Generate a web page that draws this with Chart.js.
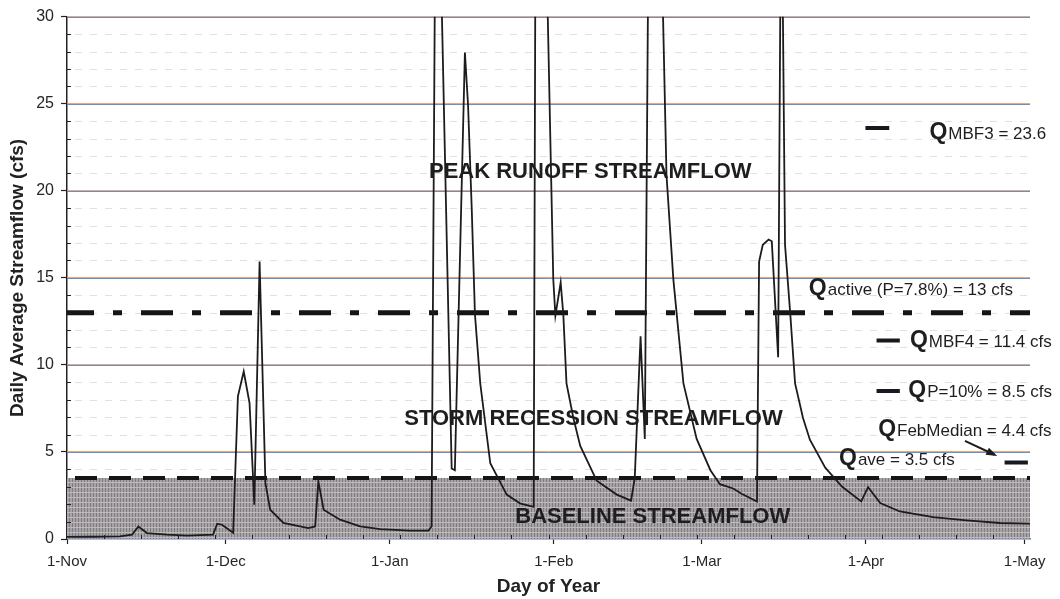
<!DOCTYPE html>
<html>
<head>
<meta charset="utf-8">
<script src="https://cdn.jsdelivr.net/npm/chart.js@4.4.1/dist/chart.umd.min.js"></script>
<style>
  html, body { margin: 0; padding: 0; background: #fff; }
</style>
</head>
<body>
<canvas id="flow-chart" width="1060" height="599"></canvas>
<script>
// x axis: day number counted from 1-Nov
var monthLabels = ['1-Nov', '1-Dec', '1-Jan', '1-Feb', '1-Mar', '1-Apr', '1-May'];
var monthDays = [0, 30, 61, 92, 120, 151, 181];
var yTicks = [0, 5, 10, 15, 20, 25, 30];

// daily average streamflow (cfs); peaks above 30 are off the chart
var flowDays = [0, 5, 10, 12.3, 13.5, 15.1, 18.9, 22.7, 27.6, 28.4, 29.3, 31.4, 32.3, 33.4, 34.5, 35.4,
  36.4, 37.5, 38.4, 40.9, 45.6, 46.9, 47.5, 48.5, 51.6, 55.4, 59.2, 64.8, 68.3, 68.9, 69.8, 72.7,
  73.3, 75.2, 75.8, 76.5, 77.1, 78.1, 80, 83.1, 85.6, 88.2, 88.8, 91.9, 92.3, 93.3, 93.8, 94.4,
  95.7, 97, 100.1, 103.9, 106.6, 107.3, 108.4, 109.2, 110.5, 113.3, 114.6, 116.5, 119, 121.6,
  123.4, 125.9, 127.5, 130.4, 130.8, 131.5, 132.6, 133.2, 134.4, 135, 135.7, 136.7, 137.6, 139.1,
  140.4, 143.3, 146.5, 150.1, 151.4, 153.7, 157.4, 163.7, 170, 176.3, 182];
var flowCfs = [0.12, 0.13, 0.15, 0.25, 0.72, 0.34, 0.25, 0.19, 0.25, 0.88, 0.82, 0.36, 8.19, 9.62, 7.81, 1.97,
  15.94, 3.21, 1.68, 0.92, 0.63, 0.72, 3.31, 1.68, 1.11, 0.72, 0.57, 0.48, 0.48, 0.72, 45, 4.05,
  3.95, 27.94, 24.9, 18.9, 12.9, 8.94, 4.35, 2.55, 2.05, 1.85, 60, 14.93, 12.83, 14.73, 12.9, 8.94,
  6.95, 5.35, 3.35, 2.55, 2.2, 3.5, 11.64, 5.75, 60, 20.9, 14.9, 8.94, 5.75, 3.95,
  3.15, 2.9, 2.6, 2.15, 15.93, 16.9, 17.2, 17.1, 10.44, 40, 16.9, 12.9, 8.94, 6.95,
  5.7, 4.1, 3.0, 2.16, 2.98, 2.07, 1.58, 1.26, 1.07, 0.92, 0.88];

// reference flows (cfs)
var qAve = 3.5;
var qActive = 13;
var markerNames = ['MBF3', 'MBF4', 'P=10%', 'FebMedian'];
var markerValues = [23.6, 11.4, 8.5, 4.4];

var FONT = "'Liberation Sans', Arial, sans-serif";
Chart.defaults.font.family = FONT;
Chart.defaults.color = '#262626';

var canvas = document.getElementById('flow-chart');
var ctx = canvas.getContext('2d');

// grey cross-hatch for the baseline band
function makeHatch() {
  var c = document.createElement('canvas');
  c.width = 6; c.height = 5;
  var g = c.getContext('2d');
  g.fillStyle = '#a7a3a7'; g.fillRect(0, 0, 6, 5);
  g.fillStyle = '#7f7b80'; g.fillRect(0, 0, 1, 5); g.fillRect(3, 0, 1, 5);
  g.fillStyle = '#bebabe'; g.fillRect(0, 2, 6, 1);
  return ctx.createPattern(c, 'repeat');
}

// where the short marker bars sit, in days
var markerX = [[150.9, 155.4], [153.0, 157.4], [153.0, 157.4], [177.2, 181.6]];

var flowPoints = flowDays.map(function (d, i) { return { x: d, y: flowCfs[i] }; });

var datasets = [{
  label: 'Streamflow',
  data: flowPoints,
  borderColor: '#1c1c1c',
  borderWidth: 1.8,
  pointRadius: 0,
  tension: 0
}, {
  label: 'Qactive',
  data: [{ x: 0, y: qActive }, { x: 182, y: qActive }],
  borderColor: '#151515',
  borderWidth: 5,
  borderDash: [32, 19, 9, 19],
  borderDashOffset: 5,
  pointRadius: 0
}, {
  label: 'Qave',
  data: [{ x: 0, y: qAve }, { x: 182, y: qAve }],
  borderColor: '#151515',
  borderWidth: 4,
  borderDash: [22, 12],
  borderDashOffset: 26,
  pointRadius: 0
}];

markerNames.forEach(function (n, i) {
  datasets.push({
    label: n,
    data: [{ x: markerX[i][0], y: markerValues[i] }, { x: markerX[i][1], y: markerValues[i] }],
    borderColor: '#18181f',
    borderWidth: 4,
    pointRadius: 0
  });
});

datasets.push({
  label: 'Baseline',
  data: [{ x: 0, y: qAve }, { x: 182, y: qAve }],
  borderWidth: 0,
  borderColor: 'rgba(0,0,0,0)',
  backgroundColor: makeHatch(),
  fill: 'origin',
  pointRadius: 0
});

// grid lines, minor ticks
var backdrop = {
  id: 'backdrop',
  beforeDatasetsDraw: function (chart) {
    var c = chart.ctx, a = chart.chartArea, ys = chart.scales.y;
    var v, py;
    c.save();
    c.lineWidth = 1;
    c.setLineDash([7, 8]);
    c.strokeStyle = 'rgba(195,170,212,0.42)';
    for (v = 1; v < 30; v++) {
      if (v % 5 === 0) continue;
      py = Math.round(ys.getPixelForValue(v)) + 0.5;
      c.beginPath(); c.moveTo(a.left + 8, py); c.lineTo(a.right, py); c.stroke();
    }
    c.setLineDash([]);
    for (v = 5; v <= 30; v += 5) {
      py = Math.round(ys.getPixelForValue(v));
      c.strokeStyle = 'rgba(222,150,80,0.8)';
      c.beginPath(); c.moveTo(a.left, py - 0.5); c.lineTo(a.right, py - 0.5); c.stroke();
      c.strokeStyle = 'rgba(80,120,200,0.85)';
      c.beginPath(); c.moveTo(a.left, py + 0.5); c.lineTo(a.right, py + 0.5); c.stroke();
    }
    c.restore();
  },
  afterDatasetsDraw: function (chart) {
    var c = chart.ctx, a = chart.chartArea, ys = chart.scales.y, xs = chart.scales.x;
    var v, py, px;
    c.save();
    c.strokeStyle = '#222';
    c.lineWidth = 1;
    for (v = 1; v < 30; v++) {
      if (v % 5 === 0) continue;
      py = Math.round(ys.getPixelForValue(v)) + 0.5;
      c.beginPath(); c.moveTo(a.left, py); c.lineTo(a.left + 4, py); c.stroke();
    }
    for (v = 7; v < 182; v += 7) {
      px = Math.round(xs.getPixelForValue(v)) + 0.5;
      c.beginPath(); c.moveTo(px, a.bottom); c.lineTo(px, a.bottom - 4); c.stroke();
    }
    c.restore();
  }
};

// text on the plot
var zoneLabels = [
  { text: 'PEAK RUNOFF STREAMFLOW', day: 98.9, val: 21.1 },
  { text: 'STORM RECESSION STREAMFLOW', day: 99.5, val: 6.9 },
  { text: 'BASELINE STREAMFLOW', day: 110.7, val: 1.28 }
];
var qLabels = [
  { sub: 'MBF3 = 23.6', day: 163.0, val: 22.98 },
  { sub: 'active (P=7.8%) = 13 cfs', day: 140.2, val: 14.02 },
  { sub: 'MBF4 = 11.4 cfs', day: 159.3, val: 11.02 },
  { sub: 'P=10% = 8.5 cfs', day: 159.0, val: 8.13 },
  { sub: 'FebMedian = 4.4 cfs', day: 153.3, val: 5.89 },
  { sub: 'ave = 3.5 cfs', day: 145.9, val: 4.27 }
];

var annotations = {
  id: 'annotations',
  afterDraw: function (chart) {
    var c = chart.ctx, ys = chart.scales.y, xs = chart.scales.x;
    c.save();
    c.fillStyle = '#1e1e1e';
    c.font = 'bold 22px ' + FONT;
    c.textAlign = 'center';
    c.textBaseline = 'middle';
    zoneLabels.forEach(function (l) {
      c.fillText(l.text, xs.getPixelForValue(l.day), ys.getPixelForValue(l.val));
    });
    c.textAlign = 'left';
    c.textBaseline = 'alphabetic';
    qLabels.forEach(function (l) {
      var px = xs.getPixelForValue(l.day), py = ys.getPixelForValue(l.val);
      c.font = 'bold 23px ' + FONT;
      c.fillText('Q', px, py);
      var w = c.measureText('Q').width;
      c.font = '17px ' + FONT;
      c.fillText(l.sub, px + w + 1, py);
    });
    // arrow to the Feb median bar
    var x1 = xs.getPixelForValue(169.7), y1 = ys.getPixelForValue(5.64);
    var x2 = xs.getPixelForValue(175.3), y2 = ys.getPixelForValue(4.84);
    c.strokeStyle = '#1e1e1e';
    c.lineWidth = 2;
    c.beginPath(); c.moveTo(x1, y1); c.lineTo(x2, y2); c.stroke();
    var ang = Math.atan2(y2 - y1, x2 - x1);
    c.beginPath();
    c.moveTo(x2 + 3 * Math.cos(ang), y2 + 3 * Math.sin(ang));
    c.lineTo(x2 - 9 * Math.cos(ang - 0.45), y2 - 9 * Math.sin(ang - 0.45));
    c.lineTo(x2 - 9 * Math.cos(ang + 0.45), y2 - 9 * Math.sin(ang + 0.45));
    c.closePath();
    c.fill();
    c.restore();
  }
};

var myChart = new Chart(ctx, {
  type: 'line',
  data: { datasets: datasets },
  plugins: [backdrop, annotations],
  options: {
    responsive: false,
    animation: false,
    devicePixelRatio: 1,
    layout: { padding: { left: 0, right: 30, top: 16.7, bottom: 0 } },
    plugins: { legend: { display: false }, tooltip: { enabled: false } },
    scales: {
      x: {
        type: 'linear',
        min: 0,
        max: 182,
        afterBuildTicks: function (s) { s.ticks = monthDays.map(function (d) { return { value: d }; }); },
        afterFit: function (s) { s.height = 60; },
        ticks: {
          autoSkip: false,
          maxRotation: 0,
          padding: 9,
          font: { size: 15 },
          callback: function (v, i) { return monthLabels[i]; }
        },
        grid: { drawOnChartArea: false, tickLength: 5, tickColor: '#222', tickWidth: 1.2 },
        border: { color: '#5a7cc0', width: 1.5 },
        title: { display: true, text: 'Day of Year', color: '#222', font: { size: 19, weight: 'bold' }, padding: { top: 0, bottom: 1 } }
      },
      y: {
        min: 0,
        max: 30,
        afterBuildTicks: function (s) { s.ticks = yTicks.map(function (v) { return { value: v }; }); },
        afterFit: function (s) { s.width = 67; },
        ticks: { padding: 7, font: { size: 16 } },
        grid: { drawOnChartArea: false, tickLength: 6, tickColor: '#222', tickWidth: 1.2 },
        border: { color: '#222', width: 1.5 },
        title: { display: true, text: 'Daily Average Streamflow (cfs)', color: '#222', font: { size: 19, weight: 'bold' }, padding: { top: 6, bottom: 0 } }
      }
    }
  }
});
</script>
</body>
</html>
